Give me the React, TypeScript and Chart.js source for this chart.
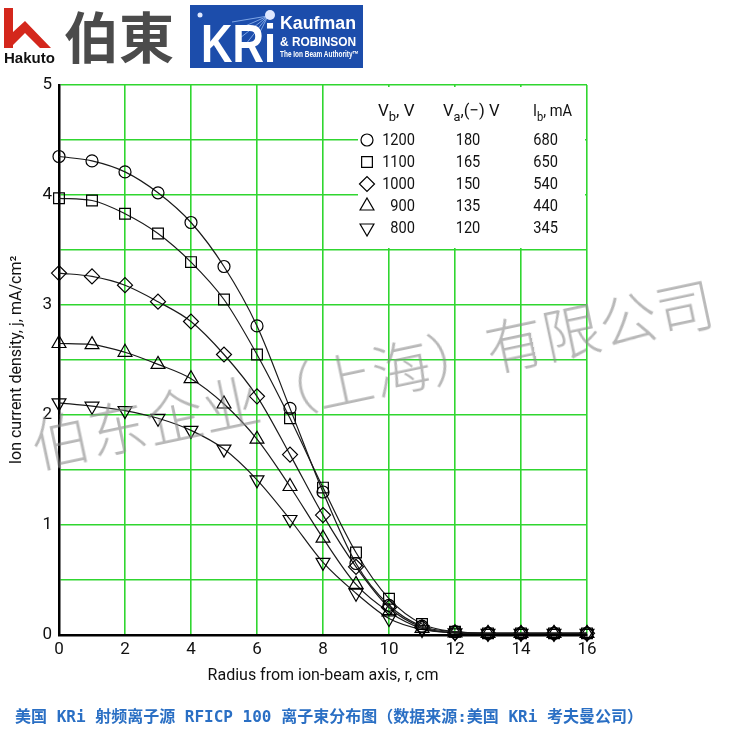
import React, { useEffect, useRef } from 'react';
import { Chart, registerables } from 'chart.js';

Chart.register(...registerables);

// ---------- data ----------
const radiusCm = [0, 1, 2, 3, 4, 5, 6, 7, 8, 9, 10, 11, 12, 13, 14, 15, 16];
const j1200 = [4.35, 4.31, 4.21, 4.02, 3.75, 3.35, 2.81, 2.06, 1.30, 0.65, 0.27, 0.08, 0.03, 0.015, 0.015, 0.015, 0.015];
const j1100 = [3.97, 3.95, 3.83, 3.65, 3.39, 3.05, 2.55, 1.97, 1.34, 0.75, 0.33, 0.10, 0.03, 0.015, 0.015, 0.015, 0.015];
const j1000 = [3.29, 3.26, 3.18, 3.03, 2.85, 2.55, 2.17, 1.64, 1.09, 0.62, 0.25, 0.07, 0.02, 0.015, 0.015, 0.015, 0.015];
const j900 = [2.65, 2.64, 2.57, 2.46, 2.33, 2.10, 1.78, 1.35, 0.88, 0.46, 0.21, 0.06, 0.02, 0.015, 0.015, 0.015, 0.015];
const j800 = [2.11, 2.08, 2.04, 1.97, 1.86, 1.69, 1.41, 1.05, 0.66, 0.38, 0.15, 0.05, 0.02, 0.015, 0.015, 0.015, 0.015];

const beamVoltages = ['1200', '1100', '1000', '900', '800'];
const accelVoltages = ['180', '165', '150', '135', '120'];
const beamCurrents = ['680', '650', '540', '440', '345'];
const seriesValues = [j1200, j1100, j1000, j900, j800];

const xTicks = [0, 2, 4, 6, 8, 10, 12, 14, 16];
const yTickLabels = [0, 1, 2, 3, 4, 5];

const xTitle = 'Radius from ion-beam axis, r, cm';
const yTitle = 'Ion current density, j, mA/cm²';
const caption = '美国 KRi 射频离子源 RFICP 100 离子束分布图（数据来源:美国 KRi 考夫曼公司）';
const watermark = '伯东企业（上海）有限公司';

// ---------- styles ----------
const FONT = 'Roboto, "Liberation Sans", sans-serif';
const GRID = 'rgb(48, 214, 48)';
const markers = [
  { style: 'circle', radius: 6, rotation: 0 },
  { style: 'rect', radius: 7.6, rotation: 0 },
  { style: 'rectRot', radius: 7.5, rotation: 0 },
  { style: 'triangle', radius: 8, rotation: 0 },
  { style: 'triangle', radius: 8, rotation: 180 },
];

function drawMarker(ctx: CanvasRenderingContext2D, style: string, r: number, rot: number, x: number, y: number) {
  ctx.beginPath();
  if (style === 'circle') {
    ctx.arc(x, y, r, 0, Math.PI * 2);
  } else if (style === 'rect') {
    const s = Math.SQRT1_2 * r;
    ctx.rect(x - s, y - s, 2 * s, 2 * s);
  } else if (style === 'rectRot') {
    ctx.moveTo(x - r, y);
    ctx.lineTo(x, y - r);
    ctx.lineTo(x + r, y);
    ctx.lineTo(x, y + r);
    ctx.closePath();
  } else {
    let a = (rot * Math.PI) / 180;
    ctx.moveTo(x + Math.sin(a) * r, y - Math.cos(a) * r);
    a += (2 * Math.PI) / 3;
    ctx.lineTo(x + Math.sin(a) * r, y - Math.cos(a) * r);
    a += (2 * Math.PI) / 3;
    ctx.lineTo(x + Math.sin(a) * r, y - Math.cos(a) * r);
    ctx.closePath();
  }
  ctx.stroke();
}

function condText(ctx: CanvasRenderingContext2D, text: string, x: number, y: number, align: 'left' | 'right' | 'center', sq: number) {
  const w = ctx.measureText(text).width * sq;
  let sx = x;
  if (align === 'right') sx = x - w;
  else if (align === 'center') sx = x - w / 2;
  ctx.save();
  ctx.translate(sx, y);
  ctx.scale(sq, 1);
  ctx.textAlign = 'left';
  ctx.fillText(text, 0, 0);
  ctx.restore();
  return w;
}

const tablePlugin = {
  id: 'tableLegend',
  beforeDatasetsDraw(chart: any) {
    const { ctx, chartArea } = chart;
    const right = chartArea.right;
    const top = chartArea.top;
    ctx.save();
    ctx.fillStyle = '#ffffff';
    ctx.fillRect(right - 229, top + 2, 227, 161);

    ctx.fillStyle = '#111';
    ctx.strokeStyle = '#000';
    ctx.lineWidth = 1.2;
    const big = `17px ${FONT}`;
    const small = `13px ${FONT}`;
    ctx.textBaseline = 'alphabetic';
    const headerY = top + 31;
    const header = (x: number, main: string, sub: string, rest: string, sq: number) => {
      ctx.font = big;
      let cx = x + condText(ctx, main, x, headerY, 'left', sq);
      ctx.font = small;
      cx += condText(ctx, sub, cx, headerY + 5, 'left', sq);
      ctx.font = big;
      condText(ctx, rest, cx, headerY, 'left', sq);
    };
    header(right - 209, 'V', 'b', ', V', 1);
    header(right - 144, 'V', 'a', ',(−) V', 0.98);
    header(right - 54, 'I', 'b', ', mA', 0.86);

    ctx.font = big;
    ctx.textBaseline = 'middle';
    for (let i = 0; i < beamVoltages.length; i++) {
      const y = top + 55 + i * 22;
      const m = markers[i];
      drawMarker(ctx, m.style, m.radius, m.rotation, right - 220, y);
      condText(ctx, beamVoltages[i], right - 172, y + 1, 'right', 0.86);
      condText(ctx, accelVoltages[i], right - 119, y + 1, 'center', 0.86);
      condText(ctx, beamCurrents[i], right - 29, y + 1, 'right', 0.86);
    }
    ctx.restore();
  },
};

function ChartCanvas() {
  const ref = useRef<HTMLCanvasElement | null>(null);
  useEffect(() => {
    if (!ref.current) return;
    const datasets = seriesValues.map((vals, i) => ({
      label: beamVoltages[i] + ' V',
      data: radiusCm.map((r, k) => ({ x: r, y: vals[k] })),
      borderColor: '#1a1a1a',
      borderWidth: 1.2,
      pointStyle: markers[i].style as any,
      pointRadius: markers[i].radius,
      pointRotation: markers[i].rotation,
      pointBorderColor: '#000',
      pointBackgroundColor: 'rgba(0,0,0,0)',
      pointBorderWidth: 1.2,
      cubicInterpolationMode: 'monotone' as const,
      clip: false as any,
      fill: false,
    }));
    const chart = new Chart(ref.current, {
      type: 'line',
      data: { datasets },
      options: {
        animation: false,
        responsive: false,
        devicePixelRatio: 1,
        layout: { padding: { left: 0, top: 85, right: 163, bottom: 0 } },
        plugins: { legend: { display: false }, tooltip: { enabled: false } },
        scales: {
          x: {
            type: 'linear',
            min: 0,
            max: 16,
            afterBuildTicks: (s: any) => {
              s.ticks = xTicks.map((v) => ({ value: v }));
            },
            afterFit: (s: any) => {
              s.height = 115;
            },
            ticks: { color: '#111', font: { size: 17, family: FONT }, padding: 5, autoSkip: false, maxRotation: 0 },
            grid: { color: GRID, lineWidth: 1.6, drawTicks: false },
            border: { color: '#000', width: 2.5 },
            title: { display: true, text: xTitle, color: '#111', font: { size: 16, family: FONT }, padding: { top: 0, bottom: 64 } },
          },
          y: {
            type: 'linear',
            min: 0,
            max: 5,
            afterBuildTicks: (s: any) => {
              const t: any[] = [];
              for (let v = 0; v <= 5.0001; v += 0.5) t.push({ value: Math.round(v * 10) / 10 });
              s.ticks = t;
            },
            afterFit: (s: any) => {
              s.width = 59;
            },
            ticks: {
              color: '#111',
              font: { size: 17, family: FONT },
              padding: 7,
              autoSkip: false,
              callback: (v: any) => (yTickLabels.includes(Number(v)) ? String(v) : ''),
            },
            grid: { color: GRID, lineWidth: 1.6, drawTicks: false },
            border: { color: '#000', width: 2.5 },
            title: { display: true, text: yTitle, color: '#111', font: { size: 16, family: FONT }, padding: { top: 7, bottom: 0 } },
          },
        },
      },
      plugins: [tablePlugin],
    });
    return () => chart.destroy();
  }, []);
  return <canvas ref={ref} width={750} height={750} style={{ position: 'absolute', left: 0, top: 0, width: 750, height: 750 }} />;
}

function Header() {
  return (
    <svg width={380} height={75} style={{ position: 'absolute', left: 0, top: 0 }}>
      <rect x={4} y={8} width={9} height={40} fill="#d4271c" />
      <polygon points="13,32 25,21 51,48 40,48 25,33 13,45" fill="#d4271c" />
      <text x={4} y={63} fontFamily="Liberation Sans, Arial, sans-serif" fontWeight="bold" fontSize={14} textLength={51} lengthAdjust="spacingAndGlyphs" fill="#111">Hakuto</text>
      <text x={64} y={58} fontFamily="Noto Sans CJK JP, sans-serif" fontWeight="bold" fontSize={55} fill="#4b4b4b">伯東</text>
      <rect x={190} y={5} width={173} height={63} fill="#1c4dab" />
      <g stroke="#7fa6e6" strokeWidth={1}>
        <line x1={268} y1={16} x2={232} y2={22} />
        <line x1={268} y1={16} x2={236} y2={30} />
        <line x1={268} y1={16} x2={240} y2={38} />
        <line x1={268} y1={16} x2={246} y2={44} />
        <line x1={268} y1={16} x2={252} y2={48} />
      </g>
      <circle cx={200} cy={15} r={2.5} fill="#dfe8ff" />
      <circle cx={270} cy={15} r={5} fill="#dfe8ff" />
      <text x={201} y={62} fontFamily="Liberation Sans, Arial, sans-serif" fontWeight="bold" fontSize={54} textLength={75} lengthAdjust="spacingAndGlyphs" fill="#fff">KRi</text>
      <text x={280} y={29} fontFamily="Liberation Sans, Arial, sans-serif" fontWeight="bold" fontSize={18} textLength={76} lengthAdjust="spacingAndGlyphs" fill="#fff">Kaufman</text>
      <text x={280} y={46} fontFamily="Liberation Sans, Arial, sans-serif" fontWeight="bold" fontSize={12} textLength={76} lengthAdjust="spacingAndGlyphs" fill="#fff">&amp; ROBINSON</text>
      <text x={280} y={57} fontFamily="Liberation Sans, Arial, sans-serif" fontWeight="bold" fontSize={8.5} textLength={79} lengthAdjust="spacingAndGlyphs" fill="#fff">The Ion Beam Authority™</text>
    </svg>
  );
}

export default function App() {
  return (
    <div style={{ position: 'absolute', left: 0, top: 0, width: 750, height: 750, background: '#fff', overflow: 'hidden' }}>
      <ChartCanvas />
      <Header />
      <div
        style={{
          position: 'absolute',
          left: 15,
          top: 706,
          fontFamily: '"DejaVu Sans Mono", "Noto Sans CJK SC", monospace',
          fontWeight: 'bold',
          fontSize: 16,
          lineHeight: '22px',
          color: '#2a6fc4',
          whiteSpace: 'nowrap',
        }}
      >
        {caption}
      </div>
      <div
        style={{
          position: 'absolute',
          left: 24,
          top: 342,
          width: 697,
          height: 58,
          lineHeight: '58px',
          fontSize: 58,
          fontFamily: '"Noto Sans CJK SC", sans-serif',
          fontWeight: 300,
          color: 'rgba(140,140,140,0.62)',
          whiteSpace: 'nowrap',
          transform: 'rotate(-12deg)',
          transformOrigin: '50% 50%',
          pointerEvents: 'none',
        }}
      >
        {watermark}
      </div>
    </div>
  );
}
